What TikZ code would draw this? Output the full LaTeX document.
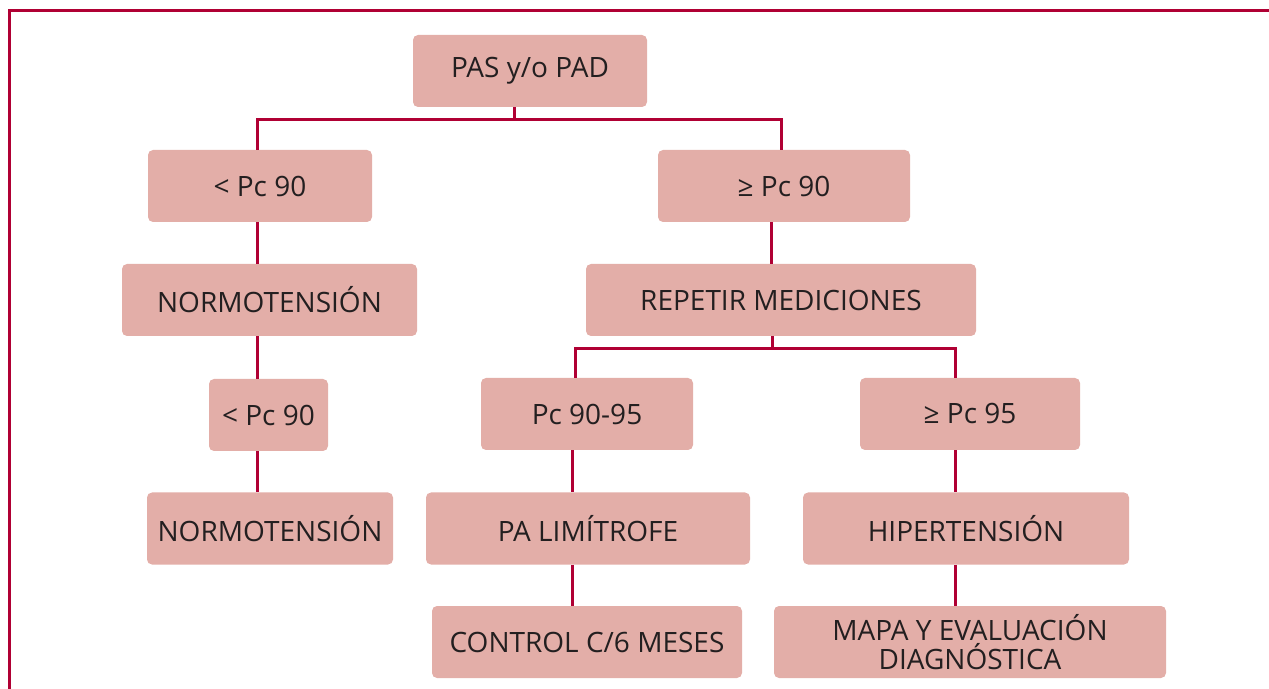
\documentclass[tikz,border=0pt]{standalone}
\usepackage{fontspec}
\setmainfont{Open Sans}
\usepackage{tikz}
\usetikzlibrary{positioning}
\definecolor{myred}{RGB}{176,0,52}
\definecolor{mypink}{RGB}{227,174,168}
\definecolor{mytext}{RGB}{35,31,32}

\begin{document}
\begin{tikzpicture}[x=0.5pt, y=-0.5pt,
  font=\fontsize{14}{16}\selectfont,
  box/.style={fill=mypink, text=mytext, rounded corners=2.5pt,
              align=center, inner sep=0pt, minimum height=36pt},
  link/.style={draw=myred, line width=1.5pt},
  frame/.style={draw=myred, line width=1.5pt}]
  \useasboundingbox (0,0) rectangle (1269,689);
  \draw[frame] (9,689) -- (9,11) -- (1269,11);

  % top level
  \node[box, minimum width=117pt](pas) at (530,71){PAS y/o PAD};
  \node[box, minimum width=112pt](lo1) at (260,186){< Pc 90};
  \node[box, minimum width=126pt](hi1) at (784,186){≥ Pc 90};
  % left branch
  \node[box, minimum width=147.5pt](nor1) at (269.5,300){NORMOTENSIÓN};
  \node[box, minimum width=59.5pt](lo2) at (268.5,415){< Pc 90};
  \node[box, minimum width=123pt](nor2) at (270,528.5){NORMOTENSIÓN};
  % right branch
  \node[box, minimum width=195pt](rep) at (781,300){REPETIR MEDICIONES};
  \node[box, minimum width=106pt](mid) at (587,414){Pc 90-95};
  \node[box, minimum width=110pt](hi2) at (970,414){≥ Pc 95};
  \node[box, minimum width=162pt](lim) at (588,528.5){PA LIMÍTROFE};
  \node[box, minimum width=163pt](hta) at (966,528.5){HIPERTENSIÓN};
  \node[box, minimum width=155pt](ctl) at (587,642){CONTROL C/6 MESES};
  \node[box, minimum width=196pt, font=\fontsize{14}{14.5}\selectfont](mapa) at (970,642){MAPA Y EVALUACIÓN\\DIAGNÓSTICA};

  % connectors
  \coordinate (s1) at (514,120);
  \draw[link] (pas.south -| s1) -- (s1);
  \draw[link] (lo1.north -| 257,0) |- (s1) -| (hi1.north -| 781,0);
  \draw[link] (lo1.south -| 257,0) -- (nor1.north -| 257,0);
  \draw[link] (nor1.south -| 257,0) -- (lo2.north -| 257,0);
  \draw[link] (lo2.south -| 257,0) -- (nor2.north -| 257,0);
  \draw[link] (hi1.south -| 771,0) -- (rep.north -| 771,0);
  \coordinate (s2) at (772,349);
  \draw[link] (rep.south -| s2) -- (s2);
  \draw[link] (mid.north -| 575,0) |- (s2) -| (hi2.north -| 955,0);
  \draw[link] (mid.south -| 572,0) -- (lim.north -| 572,0);
  \draw[link] (lim.south -| 572,0) -- (ctl.north -| 572,0);
  \draw[link] (hi2.south -| 955,0) -- (hta.north -| 955,0);
  \draw[link] (hta.south -| 955,0) -- (mapa.north -| 955,0);
\end{tikzpicture}
\end{document}
